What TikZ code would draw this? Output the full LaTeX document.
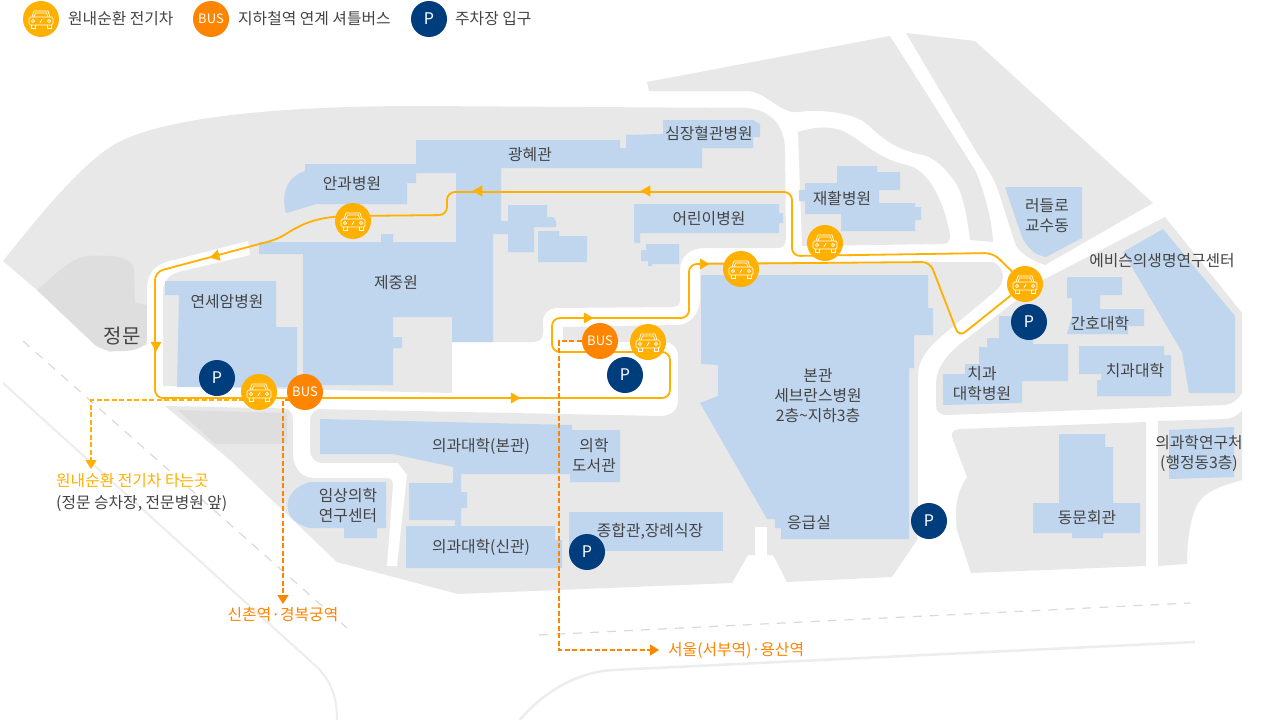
\documentclass[tikz,border=0pt]{standalone}
\usepackage{fontspec}
\setmainfont{Noto Sans CJK KR}
\usetikzlibrary{arrows.meta}
\usetikzlibrary{shapes.geometric}
\definecolor{groundColor}{HTML}{E8E8E8}
\definecolor{patchColor}{HTML}{DEDEDE}
\definecolor{buildingColor}{HTML}{BFD6EE}
\definecolor{routeColor}{HTML}{FFB000}
\definecolor{busColor}{HTML}{FF8400}
\definecolor{parkColor}{HTML}{003D7C}
\definecolor{textColor}{HTML}{444444}
\definecolor{pathColor}{HTML}{EDEDED}
\definecolor{dashColor}{HTML}{DADADA}
\pgfdeclarelayer{front}
\pgfsetlayers{main,front}
\tikzset{
  ground/.style={fill=groundColor},
  patch/.style={fill=patchColor},
  building/.style={fill=buildingColor},
  road/.style={fill=white},
  label/.style={text=textColor, inner sep=0pt, yshift=-1pt, align=center, font=\fontsize{15.8}{20}\selectfont},
  carMark/.style={circle, fill=routeColor, minimum size=36pt, inner sep=0pt},
  busMark/.style={circle, fill=busColor, minimum size=36pt, inner sep=0pt, text=white, font=\fontsize{13}{13}\selectfont},
  parkMark/.style={circle, fill=parkColor, minimum size=36pt, inner sep=0pt, text=white, font=\fontsize{16}{16}\selectfont},
  route/.style={draw=routeColor, line width=1.8pt, rounded corners=8pt},
  dir/.style={regular polygon, regular polygon sides=3, fill=#1, minimum size=13pt, inner sep=0pt},
  walk/.style={draw=#1, line width=1.2pt, dash pattern=on 5pt off 2.5pt, -{Triangle[width=11pt,length=9pt]}},
  carIcon/.pic={
    \draw[white, line width=0.7pt, rounded corners=1.5pt] (-12,-2) rectangle (12,6);
    \draw[white, line width=0.7pt] (-9,-2) -- (-7,-8) -- (7,-8) -- (9,-2);
    \draw[white, line width=0.7pt] (-7,-2) -- (-5.5,-6) -- (5.5,-6) -- (7,-2);
    \draw[white, line width=0.7pt] (-10,6) -- (-10,9) -- (-6,9) -- (-6,6) (6,6) -- (6,9) -- (10,9) -- (10,6);
    \draw[white, line width=0.7pt] (-8,2) circle (1.6) (8,2) circle (1.6) (-1,4) -- (-0.3,2) (0.3,2) -- (1,0);
  }
}
\begin{document}
\begin{tikzpicture}[x=1pt,y=-1pt]
  \useasboundingbox (0,0) rectangle (1262,720);
  \fill[white] (0,0) rectangle (1262,720);

  % paths outside the campus
  \draw[pathColor, line width=2pt] (3,383) -- (317,667) .. controls (330,680) and (337,695) .. (337,720);
  \draw[pathColor, line width=2.5pt] (520,720) .. controls (540,695) and (575,672) .. (613,670) -- (1195,642);
  \draw[dashColor, line width=1.2pt, dash pattern=on 9pt off 8pt] (23,341) -- (347,628);
  \draw[dashColor, line width=1.2pt, dash pattern=on 9pt off 8pt] (539,635) -- (1190,603);

  % ground
  \fill[ground] (3,261) -- (20,240) .. controls (40,215) and (85,160) .. (117,143) .. controls (160,120) and (260,106) .. (420,106)
    -- (747,108) .. controls (770,110) and (785,125) .. (785,150) -- (786,238) .. controls (786,245) and (783,248) .. (778,248)
    -- (705,248) .. controls (690,248) and (680,256) .. (680,270) -- (680,300) .. controls (680,305) and (677,307) .. (672,307)
    -- (558,308) .. controls (548,308) and (543,314) .. (543,322) -- (543,333) .. controls (543,339) and (539,342) .. (533,342)
    -- (452,342) -- (452,393) -- (163,386) -- (147,386) -- (147,345) -- (110,352) -- (95,345) -- (37,290) -- cycle;
  \fill[ground] (165,406) -- (660,416) .. controls (672,416) and (678,410) .. (678,400) -- (678,357) .. controls (678,347) and (672,342) .. (663,342)
    -- (563,342) -- (563,327) -- (678,325) .. controls (692,324) and (700,312) .. (700,298) -- (700,272) .. controls (700,266) and (705,262) .. (712,262)
    -- (993,262) .. controls (1000,265) and (1003,271) .. (1003,277) .. controls (1003,284) and (998,289) .. (993,293)
    -- (937,340) .. controls (925,352) and (918,362) .. (918,375) -- (918,500) -- (917,540) -- (892,577) -- (787,582) -- (773,555) -- (767,555)
    -- (767,527) -- (755,527) -- (755,555) -- (748,555) -- (732,583) -- (458,594) -- (337,562) -- (230,460) -- cycle;
  \fill[ground] (890,36) -- (647,82) -- (649,91) -- (747,91) .. controls (765,92) and (775,108) .. (792,112) .. controls (800,113) and (805,110) .. (815,111)
    .. controls (840,111) and (860,117) .. (868,125) .. controls (880,136) and (895,150) .. (923,155) .. controls (940,160) and (950,175) .. (957,185)
    .. controls (965,200) and (968,225) .. (970,240) -- (993,242) .. controls (992,215) and (980,180) .. (975,170) -- cycle;
  \fill[ground] (798,132) .. controls (810,128) and (830,124) .. (847,133) .. controls (860,140) and (880,160) .. (907,165)
    .. controls (930,170) and (945,205) .. (950,235) .. controls (950,242) and (947,244) .. (943,244) -- (802,246) -- cycle;
  \fill[ground] (906,33) -- (975,41) -- (1153,203) -- (1045,265) .. controls (1030,260) and (1018,252) .. (1015,243) -- (997,187) .. controls (992,175) and (985,165) .. (977,153) -- cycle;
  \fill[ground] (1165,217) -- (1242,313) -- (1242,393) .. controls (1238,400) and (1232,404) .. (1225,405) -- (947,415) .. controls (940,415) and (936,412) .. (936,405)
    -- (936,385) .. controls (936,365) and (950,352) .. (965,340) -- (1043,280) -- cycle;
  \fill[ground] (952,437) .. controls (950,431) and (956,429) .. (962,429) -- (1146,422) -- (1146,566) -- (971,573) -- (957,530) .. controls (955,510) and (955,495) .. (967,477) -- cycle;
  \fill[ground] (1158,421) -- (1227,419) .. controls (1233,418) and (1238,415) .. (1242,411) -- (1242,480) .. controls (1225,485) and (1205,490) .. (1197,505) .. controls (1190,520) and (1187,540) .. (1187,564) -- (1158,566) -- cycle;

  % patches and roads
  \fill[patch] (37,290) .. controls (55,275) and (70,258) .. (88,256) .. controls (105,255) and (134,255) .. (134,270) -- (135,303) -- (147,305) -- (147,338)
    .. controls (147,349) and (130,352) .. (115,351) .. controls (105,351) and (98,348) .. (92,342) -- cycle;
  \fill[patch] (178,410) -- (287,413) -- (287,444) -- (215,444) -- cycle;
  \fill[road] (147,340) -- (147,288) .. controls (148,272) and (155,266) .. (166,262) -- (248,241) -- (250,255) -- (178,272) .. controls (168,275) and (163,282) .. (163,292) -- (163,390) -- (147,390) -- cycle;
  \fill[road] (280,406) .. controls (290,408) and (293,413) .. (293,420) -- (293,452) .. controls (293,470) and (303,478) .. (315,478) -- (388,478)
    .. controls (391,478) and (393,481) .. (393,485) -- (387,566) -- (397,566) -- (407,475) -- (398,463) -- (322,463) .. controls (315,463) and (310,458) .. (310,450)
    -- (310,420) .. controls (310,413) and (315,409) .. (325,408) -- (325,405) -- (280,405) -- cycle;

  % buildings
  \fill[building] (305,164) -- (416,164) -- (416,140) -- (620,140) -- (620,148) -- (626,148) -- (626,135) -- (663,134) -- (663,120) -- (753,120) -- (760,124) -- (760,137) -- (753,137) -- (753,148) -- (702,148) -- (702,168)
    -- (501,168) -- (501,221) -- (508,221) -- (508,205) -- (547,205) -- (547,217) -- (553,217) -- (556,221) -- (556,227) -- (534,227) -- (534,252) -- (508,252) -- (508,234) -- (493,234) -- (493,342) -- (452,342) -- (452,317)
    -- (393,317) -- (393,337) -- (402,337) -- (402,348) -- (393,348) -- (393,385) -- (303,385) -- (303,254) -- (259,254) -- (259,242) -- (381,242) -- (381,234) -- (393,234) -- (393,242) -- (456,242) -- (456,173) -- (416,173)
    -- (416,183) -- (407,183) -- (407,204) -- (317,204) -- (286,213) .. controls (282,200) and (283,178) .. (305,171) -- cycle;
  \fill[building] (538,231) -- (559,231) -- (559,236) -- (587,236) -- (587,262) -- (538,262) -- cycle;
  \fill[building] (634,204) -- (779,204) -- (779,213) -- (783,213) -- (783,223) -- (779,223) -- (779,233) -- (640,233) -- (640,243) -- (634,243) -- cycle;
  \fill[building] (646,244) -- (679,244) -- (679,264) -- (652,264) -- (652,266) -- (648,266) -- (648,261) -- (641,261) -- (641,250) -- (646,250) -- cycle;
  \fill[building] (165,281) -- (276,281) -- (276,327) -- (297,327) -- (297,387) -- (177,387) -- (179,295) -- (165,295) -- cycle;
  \fill[building] (320,419) -- (572,425) -- (572,430) -- (620,430) -- (620,482) -- (570,482) -- (570,474) -- (461,474) -- (461,492) -- (467,492) -- (467,508) -- (461,508) -- (461,526) -- (455,526) -- (455,520) -- (409,520) -- (409,483) -- (453,483) -- (453,467) -- (393,454) -- (320,454) -- cycle;
  \fill[building] (406,526) -- (555,526) -- (555,540) -- (562,540) -- (562,568) -- (406,568) -- cycle;
  \fill[building] (569,512) -- (723,512) -- (723,551) -- (569,551) -- cycle;
  \fill[building] (386,482) -- (386,528) -- (377,528) -- (377,538) -- (344,538) -- (344,528) -- (310,528) .. controls (280,522) and (280,490) .. (310,482) -- cycle;
  \fill[building] (701,275) -- (928,275) -- (928,308) -- (933,308) -- (933,335) -- (914,335) -- (914,368) -- (909,368) -- (909,539) -- (781,539) -- (781,528) -- (775,528) -- (775,519) -- (767,519) -- (700,403) -- (718,396) -- (718,365) -- (701,364) -- cycle;
  \fill[building] (837,166) -- (877,166) -- (877,172) -- (900,172) -- (900,190) -- (879,190) -- (879,203) -- (915,203) -- (915,207) -- (921,207) -- (921,220) -- (915,220) -- (915,231) -- (841,231) -- (841,214) -- (805,214) -- (805,201) -- (799,201) -- (799,190) -- (805,190) -- (805,183) -- (837,183) -- cycle;
  \fill[building] (1005,187) -- (1082,187) -- (1082,238) -- (1046,257) .. controls (1035,255) and (1027,248) .. (1022,237) -- cycle;
  \fill[building] (1163,229) -- (1235,316) -- (1235,393) -- (1189,393) -- (1182,352) -- (1123,252) -- cycle;
  \fill[building] (1067,277) -- (1122,277) -- (1122,295) -- (1100,295) -- (1100,309) -- (1144,309) -- (1144,326) -- (1128,326) -- (1128,334) -- (1067,334) -- (1072,316) -- (1072,298) -- (1067,298) -- cycle;
  \fill[building] (999,316) -- (1033,316) -- (1033,344) -- (1068,344) -- (1068,381) -- (1022,381) -- (1022,403) -- (943,405) -- (943,374) -- (965,374) -- (965,364) -- (979,364) -- (979,347) -- (987,347) -- (987,338) -- (999,338) -- cycle;
  \fill[building] (1079,346) -- (1164,346) -- (1164,355) -- (1171,355) -- (1171,396) -- (1097,396) -- (1097,380) -- (1101,380) -- (1101,374) -- (1079,374) -- cycle;
  \fill[building] (1169,430) -- (1234,427) -- (1234,477) -- (1169,479) -- cycle;
  \fill[building] (1059,434) -- (1105,434) -- (1105,447) -- (1113,447) -- (1113,503) -- (1140,503) -- (1140,533) -- (1103,533) -- (1103,538) -- (1072,538) -- (1072,533) -- (1033,533) -- (1033,503) -- (1059,503) -- cycle;

  % labels
  \node[label, anchor=west] (legendCar) at (68,18) {원내순환 전기차};
  \node[label, anchor=west] (legendBus) at (238,18) {지하철역 연계 셔틀버스};
  \node[label, anchor=west] (legendPark) at (455,18) {주차장 입구};
  \node[label] (heart) at (709,132) {심장혈관병원};
  \node[label] (gwanghye) at (530,154) {광혜관};
  \node[label] (eye) at (352,183) {안과병원};
  \node[label] (rehab) at (842,198) {재활병원};
  \node[label] (children) at (709,218) {어린이병원};
  \node[label] (ludlow) at (1047,215) {러들로\\교수동};
  \node[label] (avison) at (1162,260) {에비슨의생명연구센터};
  \node[label] (jejung) at (396,282) {제중원};
  \node[label] (cancer) at (227,301) {연세암병원};
  \node[label, font=\fontsize{20}{22}\selectfont] (gate) at (122,335) {정문};
  \node[label] (nursing) at (1100,323) {간호대학};
  \node[label] (dentalHosp) at (982,383) {치과\\대학병원};
  \node[label] (dental) at (1135,370) {치과대학};
  \node[label] (main) at (818,395) {본관\\세브란스병원\\2층\textasciitilde 지하3층};
  \node[label] (medMain) at (481,445) {의과대학(본관)};
  \node[label] (library) at (594,455) {의학\\도서관};
  \node[label] (clinic) at (348,505) {임상의학\\연구센터};
  \node[label] (medNew) at (481,546) {의과대학(신관)};
  \node[label] (hall) at (650,530) {종합관,장례식장};
  \node[label] (er) at (809,522) {응급실};
  \node[label] (alumni) at (1087,517) {동문회관};
  \node[label] (research) at (1199,452) {의과학연구처\\(행정동3층)};
  \node[label, anchor=west, text=routeColor] (boardTitle) at (56,480) {원내순환 전기차 타는곳};
  \node[label, anchor=west] (boardNote) at (56,503) {(정문 승차장, 전문병원 앞)};
  \node[label, text=busColor] (shinchon) at (283,614) {신촌역·경복궁역};
  \node[label, anchor=west, text=busColor] (seoul) at (668,650) {서울(서부역)·용산역};

  % markers
  \begin{pgfonlayer}{front}
    \node[carMark] (legendCarMark) at (41,19) {};
    \node[busMark] (legendBusMark) at (211,19) {BUS};
    \node[parkMark] (legendParkMark) at (429,19) {P};
    \node[carMark] (carEye) at (353,221) {};
    \node[carMark] (carGate) at (259,392) {};
    \node[carMark] (carPocket) at (648,342) {};
    \node[carMark] (carMain) at (741,269) {};
    \node[carMark] (carRehab) at (825,243) {};
    \node[carMark] (carDental) at (1025,284) {};
    \node[busMark] (busGate) at (305,392) {BUS};
    \node[busMark] (busPocket) at (600,341) {BUS};
    \node[parkMark] (parkGate) at (217,378) {P};
    \node[parkMark] (parkPocket) at (625,375) {P};
    \node[parkMark] (parkDental) at (1029,322) {P};
    \node[parkMark] (parkMain) at (929,521) {P};
    \node[parkMark] (parkHall) at (587,552) {P};
    \foreach \car in {legendCarMark,carEye,carGate,carPocket,carMain,carRehab,carDental}
      \pic at (\car) {carIcon};
  \end{pgfonlayer}

  % shuttle loop
  \draw[route] (carDental) -- (993,253) -- (792,256) -- (792,192) -- (447,192) -- (447,215) -- (353,216)
    .. controls (315,217) and (300,225) .. (278,239) -- (155,272) -- (155,398) -- (670,398) -- (670,352)
    -- (552,352) -- (552,318) -- (689,318) -- (689,264) -- (930,262) -- (959,337) -- (carDental);
  \node[dir=routeColor, rotate=90] (tipRehabA) at (647,191) {};
  \node[dir=routeColor, rotate=90] (tipRehabB) at (479,191) {};
  \node[dir=routeColor, rotate=105] (tipEye) at (216,256) {};
  \node[dir=routeColor, rotate=180] (tipWest) at (156,345) {};
  \node[dir=routeColor, rotate=-90] (tipSouth) at (514,398) {};
  \node[dir=routeColor, rotate=-90] (tipPocket) at (587,318) {};
  \node[dir=routeColor, rotate=-90] (tipMain) at (703,264) {};

  % dashed ways
  \coordinate (boardBend) at (91,400);
  \coordinate (boardTip) at (91,469);
  \coordinate (busGateBend) at (283,400);
  \coordinate (shinchonTip) at (283,604);
  \coordinate (pocketBend) at (559,341);
  \coordinate (seoulBend) at (559,650);
  \coordinate (seoulTip) at (659,650);
  \draw[walk=routeColor] (carGate |- boardBend) -- (boardBend) -- (boardTip);
  \draw[walk=busColor] (busGate |- busGateBend) -- (busGateBend) -- (shinchonTip);
  \draw[walk=busColor] (busPocket) -- (pocketBend) -- (seoulBend) -- (seoulTip);
\end{tikzpicture}
\end{document}
